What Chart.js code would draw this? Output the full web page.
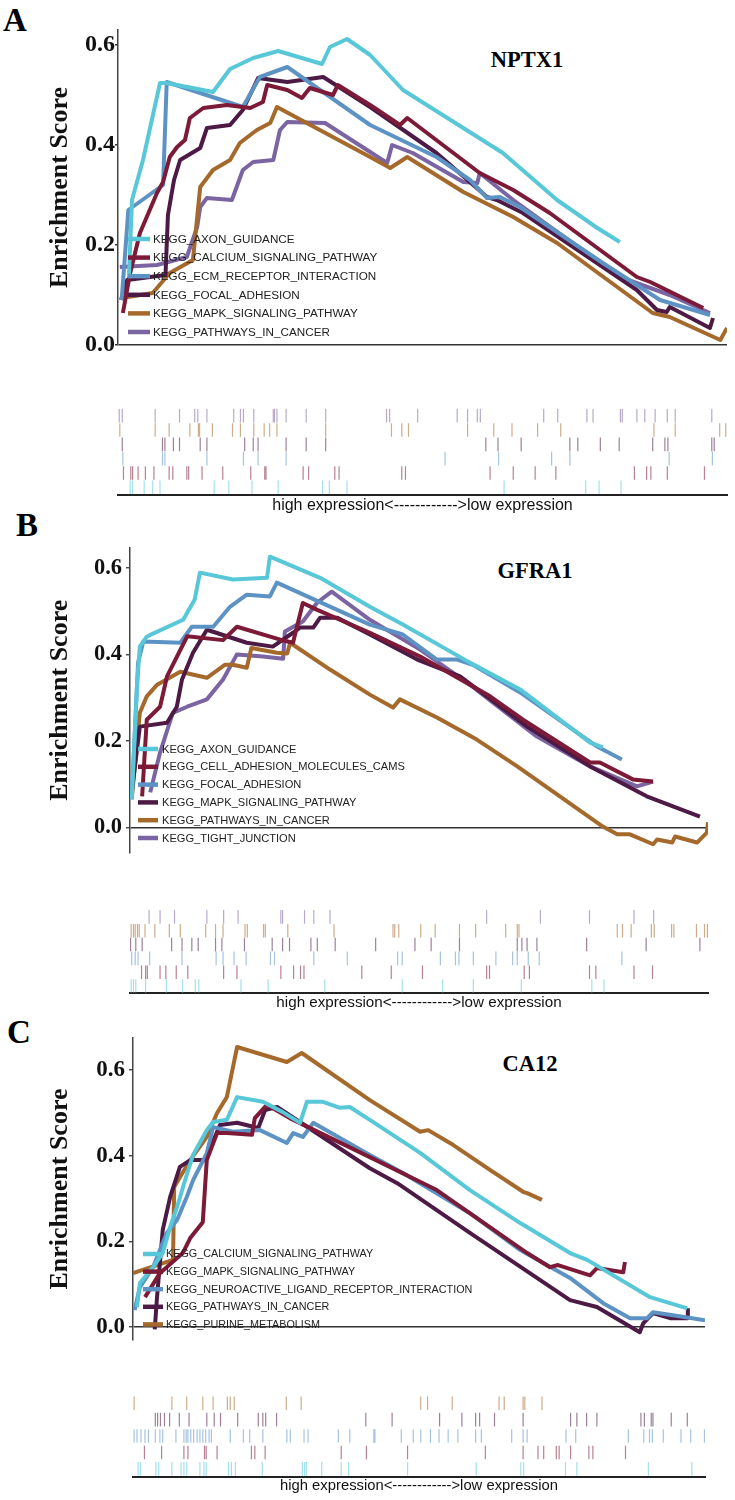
<!DOCTYPE html>
<html><head><meta charset="utf-8">
<script src="https://cdn.jsdelivr.net/npm/chart.js@4.4.0/dist/chart.umd.min.js"></script>
<style>
html,body{margin:0;padding:0;background:#fff;}
#page{position:relative;width:735px;height:1500px;overflow:hidden;background:#fff;}
canvas{position:absolute;left:0;}
.lbl{position:absolute;font-family:'Liberation Serif','Times New Roman',serif;font-weight:bold;color:#000;line-height:1;white-space:nowrap;}
.gene{transform:translate(-50%,-50%);font-size:22.5px;}
.panel{font-size:33px;}
</style></head><body><div id="page">
<div class="lbl panel" style="left:3px;top:4px">A</div>
<div class="lbl panel" style="left:16px;top:509px">B</div>
<div class="lbl panel" style="left:7px;top:1016px">C</div>
<div class="lbl gene" id="geneA" style="left:527px;top:60px"></div>
<div class="lbl gene" id="geneB" style="left:535px;top:571px"></div>
<div class="lbl gene" id="geneC" style="left:530px;top:1064px"></div>
</div>
<script>
// ---------------- data ----------------
const Y_TICKS = [0, 0.2, 0.4, 0.6];
const RUG_TITLE = 'high expression<------------>low expression';

// Panel A
const A_GENE = 'NPTX1';
const A_PATHWAYS = ['KEGG_AXON_GUIDANCE','KEGG_CALCIUM_SIGNALING_PATHWAY','KEGG_ECM_RECEPTOR_INTERACTION','KEGG_FOCAL_ADHESION','KEGG_MAPK_SIGNALING_PATHWAY','KEGG_PATHWAYS_IN_CANCER'];
const A_AXON = [[1.8,0.14],[2.3,0.29],[4.1,0.37],[6.9,0.524],[8.0,0.524],[15.6,0.506],[18.4,0.552],[22.2,0.574],[26.3,0.588],[33.5,0.562],[34.8,0.596],[37.6,0.612],[41.4,0.58],[46.8,0.51],[63.2,0.384],[72.1,0.29],[78.7,0.234],[82.4,0.206]];
const A_CALCIUM = [[0.8,0.064],[2.0,0.144],[3.6,0.224],[6.4,0.304],[7.4,0.326],[8.5,0.376],[9.7,0.396],[11.0,0.41],[11.8,0.454],[14.0,0.474],[17.9,0.48],[21.7,0.474],[23.8,0.486],[24.5,0.52],[27.8,0.51],[30.2,0.494],[31.5,0.514],[35.3,0.50],[36.1,0.52],[41.4,0.48],[46.3,0.44],[47.5,0.454],[59.4,0.344],[64.9,0.31],[70.9,0.264],[85.2,0.136],[87.4,0.126],[96.1,0.074]];
const A_ECM = [[0.6,0.09],[1.7,0.27],[7.4,0.32],[8.0,0.526],[20.5,0.476],[23.3,0.536],[27.8,0.556],[41.4,0.44],[52.3,0.376],[57.8,0.33],[60.6,0.294],[62.7,0.296],[66.0,0.276],[79.6,0.164],[89.0,0.09],[97.2,0.06]];
const A_FOCAL = [[0.5,0.09],[1.5,0.13],[7.8,0.14],[8.2,0.26],[9.2,0.33],[10.2,0.37],[13.5,0.394],[14.6,0.434],[18.4,0.44],[20.5,0.47],[23.0,0.534],[27.8,0.526],[33.7,0.536],[41.4,0.476],[52.3,0.384],[60.6,0.296],[62.2,0.29],[66.5,0.264],[85.2,0.11],[88.5,0.07],[90.1,0.066],[90.6,0.076],[97.2,0.034],[97.7,0.054]];
const A_MAPK = [[0.6,0.094],[5.7,0.104],[8.5,0.144],[12.3,0.17],[13.5,0.316],[15.6,0.35],[18.4,0.37],[20.0,0.404],[22.8,0.43],[25.0,0.444],[26.1,0.476],[41.4,0.376],[44.7,0.354],[47.5,0.376],[56.7,0.306],[64.9,0.256],[72.1,0.204],[87.8,0.064],[90.6,0.056],[98.9,0.01],[100,0.034]];
const A_CANCER = [[0.3,0.156],[6.4,0.16],[11.3,0.176],[13.0,0.236],[13.5,0.276],[14.6,0.294],[18.7,0.29],[20.5,0.35],[22.2,0.366],[25.5,0.37],[26.6,0.43],[27.8,0.446],[34.0,0.444],[41.4,0.386],[44.2,0.364],[45.0,0.40],[48.4,0.384],[56.7,0.326],[59.0,0.324],[59.4,0.344],[64.9,0.29],[82.4,0.136],[90.6,0.10],[97.2,0.064]];
const A_HITS_AXON = [2.0,2.4,4.3,5.7,6.9,15.8,18.2,22.0,26.3,33.6,34.7,37.6,63.4,76.8,79.0,82.6];
const A_HITS_CALCIUM = [0.9,2.1,2.4,3.3,4.5,5.9,8.4,9.0,11.3,11.6,13.8,17.2,21.8,24.1,24.3,30.4,31.3,35.6,36.3,46.6,47.2,61.1,64.9,68.5,71.9,84.8,86.8,87.5,90.2,96.3];
const A_HITS_ECM = [0.8,7.3,7.7,14.6,20.6,23.0,27.6,53.7,62.5,71.2,74.2,90.5,97.6];
const A_HITS_FOCAL = [0.7,7.3,7.7,9.1,10.1,13.5,14.6,20.8,22.2,23.0,27.6,30.9,34.1,60.4,62.4,66.2,74.2,75.5,79.2,82.3,87.8,89.8,90.3,97.5,97.9];
const A_HITS_MAPK = [0.3,6.1,8.4,11.8,13.2,13.4,15.5,18.8,20.1,22.3,24.0,24.9,26.1,34.1,44.9,46.6,47.7,57.4,61.7,64.7,68.9,72.7,88.0,91.5,98.8,99.8];
const A_HITS_CANCER = [0.2,0.7,6.1,10.1,12.6,13.1,14.6,19.0,20.1,20.6,22.3,25.5,25.7,26.1,27.6,30.9,34.1,44.1,44.6,49.2,55.7,57.4,59.0,59.5,69.9,72.2,77.0,78.0,82.5,82.8,85.2,86.5,88.2,90.2,91.5,97.5];

// Panel B
const B_GENE = 'GFRA1';
const B_PATHWAYS = ['KEGG_AXON_GUIDANCE','KEGG_CELL_ADHESION_MOLECULES_CAMS','KEGG_FOCAL_ADHESION','KEGG_MAPK_SIGNALING_PATHWAY','KEGG_PATHWAYS_IN_CANCER','KEGG_TIGHT_JUNCTION'];
const B_AXON = [[0.3,0.065],[1.2,0.326],[1.7,0.418],[2.9,0.441],[3.5,0.445],[9.2,0.48],[11.2,0.527],[12.1,0.589],[17.8,0.573],[23.7,0.577],[24.2,0.626],[32.9,0.577],[41.5,0.51],[47.2,0.469],[58.8,0.381],[67.5,0.319],[79.6,0.196],[81.8,0.185]];
const B_CAMS = [[2.1,0.072],[2.9,0.249],[5.2,0.279],[6.4,0.349],[9.9,0.442],[16.1,0.433],[18.5,0.464],[26.0,0.434],[28.2,0.427],[29.9,0.519],[32.4,0.503],[41.5,0.45],[50.2,0.395],[62.3,0.303],[68.0,0.249],[79.6,0.15],[81.3,0.15],[87.0,0.111],[90.5,0.106]];
const B_FOCAL = [[0.3,0.07],[1.4,0.381],[2.3,0.43],[8.7,0.427],[10.7,0.464],[14.4,0.464],[17.3,0.51],[20.2,0.538],[24.2,0.534],[25.4,0.566],[41.5,0.469],[47.2,0.446],[53.1,0.388],[56.6,0.388],[59.3,0.376],[67.5,0.312],[80.8,0.187],[85.1,0.157]];
const B_MAPK = [[0.3,0.081],[1.7,0.233],[6.4,0.242],[8.1,0.279],[9.0,0.342],[10.9,0.404],[13.3,0.457],[20.2,0.427],[24.7,0.418],[28.2,0.45],[29.4,0.462],[31.7,0.462],[32.9,0.485],[35.8,0.485],[41.5,0.446],[49.7,0.388],[57.1,0.349],[68.7,0.233],[79.6,0.141],[89.4,0.072],[98.6,0.025]];
const B_CANCER = [[0.3,0.065],[1.7,0.265],[2.9,0.303],[4.7,0.33],[8.7,0.36],[13.3,0.346],[16.4,0.376],[17.8,0.376],[20.2,0.369],[21.0,0.415],[25.4,0.404],[27.2,0.402],[27.7,0.427],[34.6,0.365],[41.5,0.307],[45.5,0.277],[46.7,0.296],[53.1,0.254],[60.0,0.203],[67.0,0.141],[81.8,0.002],[84.3,-0.016],[86.5,-0.016],[90.5,-0.039],[91.2,-0.028],[93.8,-0.035],[94.3,-0.021],[98.1,-0.035],[99.8,-0.012],[100,0.012]];
const B_TIGHT = [[3.5,0.081],[5.2,0.173],[7.4,0.265],[9.9,0.279],[13.3,0.296],[16.1,0.342],[18.5,0.40],[23.0,0.395],[26.5,0.39],[26.8,0.453],[29.9,0.476],[32.4,0.52],[34.9,0.545],[41.5,0.48],[50.2,0.411],[58.8,0.33],[70.4,0.21],[79.6,0.141],[87.7,0.095],[90.5,0.106]];
const B_HITS_AXON = [0.2,0.6,1.0,2.7,6.3,9.1,11.3,11.9,19.2,23.9,33.7,47.1,54.1,59.4,67.7,79.9,82.0];
const B_HITS_CAMS = [2.0,2.7,3.0,5.2,6.2,8.0,10.0,16.2,18.5,26.1,28.3,29.5,30.1,40.1,45.2,50.6,61.7,62.2,68.2,69.1,79.5,80.6,87.2,90.4];
const B_HITS_FOCAL = [0.3,0.9,1.4,3.4,9.0,14.9,16.1,18.0,20.1,24.3,25.0,31.8,37.6,46.3,47.1,53.7,56.3,56.9,59.4,63.3,66.2,67.0,68.9,70.8,85.1];
const B_HITS_MAPK = [0.1,1.0,2.1,7.2,9.0,10.7,11.8,14.8,15.9,19.8,24.6,26.4,27.6,31.3,32.4,35.5,42.5,49.3,52.1,57.0,67.0,67.8,68.7,70.4,79.0,89.3,98.6];
const B_HITS_CANCER = [0.2,0.6,0.9,1.3,1.6,2.6,4.3,6.8,8.7,13.1,14.8,16.1,19.9,20.3,23.1,23.4,27.3,35.3,45.5,45.8,46.5,50.3,52.8,57.0,59.8,65.0,67.0,67.3,84.3,85.2,86.7,90.2,90.7,93.7,94.1,98.0,99.4,99.9];
const B_HITS_TIGHT = [3.3,5.2,7.7,13.3,16.2,18.7,26.1,26.4,30.2,31.8,34.6,61.7,71.0,79.5,87.2,90.6];

// Panel C
const C_GENE = 'CA12';
const C_PATHWAYS = ['KEGG_CALCIUM_SIGNALING_PATHWAY','KEGG_MAPK_SIGNALING_PATHWAY','KEGG_NEUROACTIVE_LIGAND_RECEPTOR_INTERACTION','KEGG_PATHWAYS_IN_CANCER','KEGG_PURINE_METABOLISM'];
const C_CALCIUM = [[0.7,0.047],[1.2,0.103],[3.5,0.14],[5.2,0.173],[6.5,0.234],[7.7,0.28],[9.1,0.343],[10.5,0.402],[12.9,0.46],[14.0,0.479],[16.4,0.484],[18.2,0.537],[22.7,0.526],[26.2,0.502],[29.2,0.477],[30.4,0.526],[33.2,0.526],[36.2,0.512],[37.9,0.514],[41.4,0.484],[50.2,0.407],[58.9,0.32],[67.7,0.243],[76.4,0.173],[79.4,0.157],[90.4,0.07],[96.9,0.044]];
const C_MAPK = [[2.1,0.07],[4.7,0.126],[8.7,0.173],[10.0,0.208],[12.2,0.245],[12.9,0.39],[14.7,0.453],[16.4,0.453],[20.8,0.449],[21.3,0.488],[23.4,0.519],[27.4,0.488],[41.4,0.397],[53.1,0.32],[68.9,0.173],[72.9,0.14],[74.3,0.145],[79.9,0.121],[81.1,0.138],[85.7,0.128],[86.0,0.152]];
const C_NEURO = [[0.3,0.04],[1.2,0.093],[3.5,0.14],[5.9,0.22],[7.7,0.25],[9.4,0.304],[10.5,0.343],[12.9,0.406],[14.0,0.467],[17.5,0.456],[22.2,0.46],[26.9,0.43],[28.0,0.453],[29.7,0.444],[31.5,0.477],[41.4,0.402],[47.2,0.36],[58.9,0.266],[67.7,0.18],[76.4,0.115],[82.2,0.056],[86.9,0.021],[89.9,0.021],[90.9,0.035],[94.4,0.028],[100,0.016]];
const C_CANCER = [[3.8,-0.005],[4.2,0.07],[5.2,0.227],[6.5,0.304],[8.2,0.374],[10.0,0.39],[12.6,0.39],[15.2,0.472],[18.2,0.477],[21.9,0.465],[23.1,0.507],[25.2,0.514],[41.4,0.371],[46.2,0.336],[58.9,0.22],[76.4,0.063],[81.1,0.047],[88.6,-0.012],[89.2,0.009],[90.9,0.033],[93.9,0.021],[96.9,0.021],[97.0,0.044]];
const C_PURINE = [[0,0.126],[7.0,0.157],[7.2,0.327],[10.0,0.39],[12.9,0.444],[14.7,0.5],[16.4,0.537],[18.2,0.654],[26.9,0.619],[29.5,0.64],[41.4,0.53],[50.2,0.456],[51.6,0.46],[56.0,0.425],[62.4,0.367],[68.2,0.316],[68.9,0.313],[71.5,0.297]];
const C_HITS_CALCIUM = [0.9,1.3,4.0,4.5,6.8,8.4,8.9,9.4,11.7,12.4,12.8,16.7,17.2,17.9,22.6,29.6,30.0,30.3,33.0,36.4,37.7,48.0,60.0,67.8,68.3,75.6,77.6,90.1,97.7];
const C_HITS_MAPK = [2.0,5.0,8.9,9.6,12.5,12.8,14.7,20.7,21.3,23.1,36.4,40.8,48.0,61.6,68.2,70.8,71.8,74.0,74.5,76.5,79.7,80.4,86.1];
const C_HITS_NEURO = [0.2,0.7,1.4,2.1,2.7,3.9,4.7,5.2,7.5,8.9,9.3,9.6,10.1,10.6,11.2,11.7,12.2,12.7,13.3,13.7,17.0,19.3,20.4,22.7,26.9,27.5,29.9,30.6,35.9,37.9,42.1,42.3,46.9,49.0,50.3,52.0,53.5,55.1,56.8,59.9,60.9,66.2,68.2,68.9,75.7,77.4,86.6,89.3,90.3,90.8,92.7,95.8,97.5,99.9];
const C_HITS_CANCER = [3.9,4.3,4.8,5.5,6.4,8.1,9.8,12.9,14.2,15.3,18.3,21.9,22.7,23.2,25.1,40.7,45.3,53.6,57.5,59.9,60.6,63.2,68.2,76.5,77.6,79.3,81.1,88.8,89.4,90.6,90.9,94.1,96.9];
const C_HITS_PURINE = [0.2,6.8,9.4,12.2,14.0,16.5,17.0,17.7,26.8,29.4,50.3,51.5,55.8,64.0,64.9,68.2,68.5,71.5];

// ---------------- styling ----------------
const SERIF = "'Liberation Serif','Times New Roman',serif";
const SANS = "'Liberation Sans',Arial,sans-serif";
const CYAN='#58c7d8', RED='#7c1a37', BLUE='#5d93c4', DARK='#4c1a45', BROWN='#a5692c', PURPLE='#7b64a2';
function rgba(hex,a){const n=parseInt(hex.slice(1),16);return `rgba(${n>>16&255},${n>>8&255},${n&255},${a})`;}

const PANELS = [
  {gene:A_GENE, geneEl:'geneA', names:A_PATHWAYS, series:[A_AXON,A_CALCIUM,A_ECM,A_FOCAL,A_MAPK,A_CANCER],
   hits:[A_HITS_AXON,A_HITS_CALCIUM,A_HITS_ECM,A_HITS_FOCAL,A_HITS_MAPK,A_HITS_CANCER],
   colors:[CYAN,RED,BLUE,DARK,BROWN,PURPLE],
   line:{top:0,h:360,padTop:30,padBottom:15,padRight:8,axisW:118,yMin:0,yMax:0.63,tickSize:24,tickLen:3,tickPad:0,titlePad:45},
   legend:{x:128,w:22,tx:153,y0:239,dy:18.6,size:11.7},
   rug:{top:400,h:120,padTop:8.5,padBottom:5.3,padLeft:118,padRight:8,font:16,titleTop:1}},
  {gene:B_GENE, geneEl:'geneB', names:B_PATHWAYS, series:[B_AXON,B_CAMS,B_FOCAL,B_MAPK,B_CANCER,B_TIGHT],
   hits:[B_HITS_AXON,B_HITS_CAMS,B_HITS_FOCAL,B_HITS_MAPK,B_HITS_CANCER,B_HITS_TIGHT],
   colors:[CYAN,RED,BLUE,DARK,BROWN,PURPLE],
   line:{top:520,h:350,padTop:28,padBottom:17,padRight:27,axisW:130,yMin:-0.058,yMax:0.646,tickSize:22.5,tickLen:4,tickPad:4,titlePad:45},
   legend:{x:138,w:20,tx:162,y0:749-520,dy:17.8,size:11.1},
   rug:{top:900,h:120,padTop:10,padBottom:8.5,padLeft:130,padRight:27,font:15.2,titleTop:0.3}},
  {gene:C_GENE, geneEl:'geneC', names:C_PATHWAYS, series:[C_CALCIUM,C_MAPK,C_NEURO,C_CANCER,C_PURINE],
   hits:[C_HITS_CALCIUM,C_HITS_MAPK,C_HITS_NEURO,C_HITS_CANCER,C_HITS_PURINE],
   colors:[CYAN,RED,BLUE,DARK,BROWN],
   line:{top:1020,h:340,padTop:18,padBottom:20,padRight:30,axisW:133,yMin:-0.030,yMax:0.675,tickSize:23,tickLen:4,tickPad:4,titlePad:45},
   legend:{x:143,w:20,tx:166,y0:1254-1020,dy:17.6,size:10.8},
   rug:{top:1385,h:115,padTop:10,padBottom:4.9,padLeft:133,padRight:30,font:14.8,titleTop:0.3}}
];

// legend drawn inside the plot area from the chart's own datasets
const insideLegend = {
  id:'insideLegend',
  afterDatasetsDraw(chart, args, opts){
    const ctx = chart.ctx;
    ctx.save();
    ctx.font = `${opts.size}px ${SANS}`;
    ctx.textBaseline = 'middle';
    ctx.textAlign = 'left';
    chart.data.datasets.forEach((ds,i)=>{
      const y = opts.y0 + i*opts.dy;
      ctx.strokeStyle = ds.borderColor; ctx.lineWidth = 4.5; ctx.lineCap='butt';
      ctx.beginPath(); ctx.moveTo(opts.x, y); ctx.lineTo(opts.x+opts.w, y); ctx.stroke();
      ctx.fillStyle = '#222';
      ctx.fillText(ds.label, opts.tx, y+0.5);
    });
    ctx.restore();
  }
};

function addCanvas(top,h){
  const c=document.createElement('canvas');
  c.width=735;c.height=h;c.style.top=top+'px';c.style.width='735px';c.style.height=h+'px';
  document.getElementById('page').appendChild(c);
  return c;
}

PANELS.forEach(p=>{
  document.getElementById(p.geneEl).textContent=p.gene;
  const L=p.line;
  new Chart(addCanvas(L.top,L.h),{
    type:'line',
    data:{datasets:p.series.map((s,i)=>({
      label:p.names[i], data:s.map(d=>({x:d[0],y:d[1]})),
      borderColor:p.colors[i], backgroundColor:p.colors[i], borderWidth:4,
      pointRadius:0, fill:false, tension:0, borderJoinStyle:'round', borderCapStyle:'butt'
    }))},
    options:{
      responsive:false, animation:false, events:[],
      layout:{padding:{left:0,top:L.padTop,right:L.padRight,bottom:L.padBottom}},
      scales:{
        x:{type:'linear',min:0,max:100,display:false},
        y:{type:'linear',min:L.yMin,max:L.yMax,
          afterBuildTicks:s=>{s.ticks=Y_TICKS.map(v=>({value:v}));},
          afterFit:s=>{s.width=L.axisW;},
          ticks:{callback:v=>Number(v).toFixed(1),font:{family:SERIF,size:L.tickSize,weight:'bold'},color:'#111',padding:L.tickPad},
          grid:{drawOnChartArea:true,color:c=>(c.tick&&c.tick.value===0)?'#333':'rgba(0,0,0,0)',lineWidth:1.5,tickLength:L.tickLen,tickColor:'#333',tickWidth:1.3},
          border:{display:true,color:'#444',width:1.5},
          title:{display:true,text:'Enrichment Score',font:{family:SERIF,size:26,weight:'bold'},color:'#111',padding:{top:L.titlePad,bottom:0}}
        }
      },
      plugins:{
        legend:{display:false},
        insideLegend:p.legend,
        title:{display:false},tooltip:{enabled:false}
      }
    },
    plugins:[insideLegend]
  });
  const R=p.rug;
  new Chart(addCanvas(R.top,R.h),{
    type:'scatter',
    data:{datasets:p.hits.map((h,i)=>({
      label:p.names[i], data:h.map(x=>({x:x,y:i+0.5})),
      pointStyle:'line', pointRotation:90, pointRadius:6.8, pointBorderWidth:1.2,
      pointBorderColor:rgba(p.colors[i],0.55), pointBackgroundColor:rgba(p.colors[i],0.55)
    }))},
    options:{
      responsive:false, animation:false, events:[],
      layout:{padding:{left:R.padLeft,top:R.padTop,right:R.padRight,bottom:R.padBottom}},
      scales:{
        x:{type:'linear',min:0,max:100,
          grid:{display:false,drawTicks:false},ticks:{display:false},
          border:{display:true,color:'#222',width:2},
          title:{display:true,text:RUG_TITLE,font:{family:SANS,size:R.font},color:'#111',padding:{top:R.titleTop,bottom:0}}},
        y:{display:false,min:0,max:p.hits.length}
      },
      plugins:{legend:{display:false},title:{display:false},tooltip:{enabled:false}}
    }
  });
});
</script>
</body></html>
